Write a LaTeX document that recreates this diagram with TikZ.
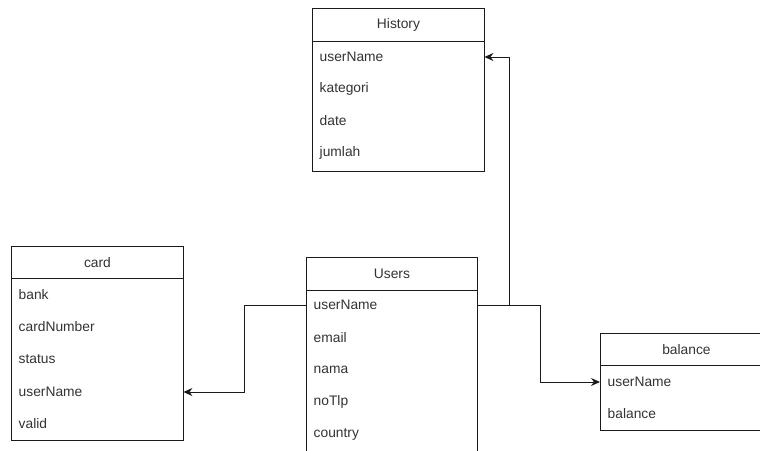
\documentclass[tikz,border=0pt]{standalone}
\usepackage{fontspec}
\setmainfont{Liberation Sans}
\usetikzlibrary{arrows.meta}
\definecolor{txt}{HTML}{333333}
\definecolor{ln}{HTML}{1A1A1A}
\tikzset{
  hdrbox/.style={draw=ln, line width=0.9pt, minimum width=172pt, minimum height=33pt, inner sep=0pt, anchor=north west, text=txt, font=\fontsize{13.8}{16}\selectfont},
  bodybox/.style={draw=ln, line width=0.9pt, minimum width=172pt, inner sep=0pt, anchor=north west},
  rowtxt/.style={text width=157pt, inner xsep=7.5pt, inner ysep=0pt, minimum height=30pt, align=left, anchor=west, text=txt, font=\fontsize{13.8}{16}\selectfont},
  link/.style={draw=ln, line width=0.9pt, -{Stealth[length=9pt,width=8pt]}},
  plain/.style={draw=ln, line width=0.9pt}
}
\begin{document}
\begin{tikzpicture}[x=1pt,y=-1pt]
\useasboundingbox (0,0) rectangle (760,450);
\clip (0,0) rectangle (760,450);
\fill[white] (0,0) rectangle (760,450);
% History
\node[hdrbox] (histh) at (312,8) {History};
\node[bodybox, minimum height=130pt] (histb) at (312,41) {};
\node[rowtxt] (hU) at (312,57) {userName};
\node[rowtxt] (hK) at (312,89) {kategori};
\node[rowtxt] (hD) at (312,121) {date};
\node[rowtxt] (hJ) at (312,153) {jumlah};
% card
\node[hdrbox, minimum height=32pt] (cardh) at (11,246) {card};
\node[bodybox, minimum height=162pt] (cardb) at (11,278) {};
\node[rowtxt] (cB) at (11,295) {bank};
\node[rowtxt] (cN) at (11,327) {cardNumber};
\node[rowtxt] (cS) at (11,359) {status};
\node[rowtxt] (cU) at (11,392) {userName};
\node[rowtxt] (cV) at (11,424) {valid};
% Users
\node[hdrbox, minimum width=171pt] (usrh) at (306,257) {Users};
\node[bodybox, minimum width=171pt, minimum height=190pt] (usrb) at (306,290) {};
\node[rowtxt, text width=156pt] (uU) at (306,305) {userName};
\node[rowtxt, text width=156pt] (uE) at (306,338) {email};
\node[rowtxt, text width=156pt] (uN) at (306,370) {nama};
\node[rowtxt, text width=156pt] (uT) at (306,402) {noTlp};
\node[rowtxt, text width=156pt] (uC) at (306,434) {country};
% balance
\node[hdrbox, minimum height=32pt] (balh) at (600,333) {balance};
\node[bodybox, minimum height=65pt] (balb) at (600,365) {};
\node[rowtxt] (bU) at (600,382) {userName};
\node[rowtxt] (bB) at (600,414) {balance};
% connectors
\coordinate (j1) at (509,305);
\coordinate (j2) at (540,305);
\coordinate (j3) at (244,305);
\draw[link] (uU.east) -- (j1) |- (hU.east);
\draw[link] (uU.east) -- (j2) |- (bU.west);
\draw[link] (uU.west) -- (j3) |- (cU.east);
\end{tikzpicture}
\end{document}
